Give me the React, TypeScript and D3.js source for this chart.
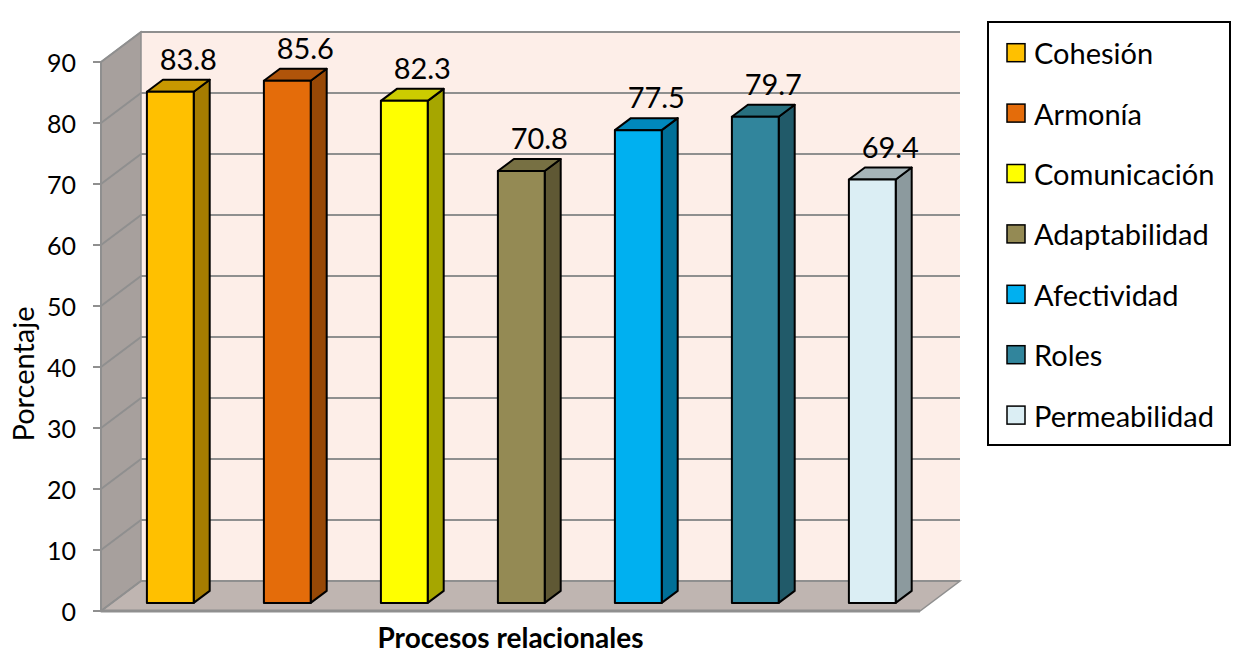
import React from "react";
import * as d3 from "d3";

// Procesos relacionales — porcentaje por proceso
const categories = [
  "Cohesión",
  "Armonía",
  "Comunicación",
  "Adaptabilidad",
  "Afectividad",
  "Roles",
  "Permeabilidad",
];
const values = [83.8, 85.6, 82.3, 70.8, 77.5, 79.7, 69.4];
const yTicks = [0, 10, 20, 30, 40, 50, 60, 70, 80, 90];

// front / side / top shades for each bar
const frontColors = ["#FFC000", "#E46C0A", "#FFFF00", "#948A54", "#00B0F0", "#31859C", "#DBEEF4"];
const sideColors = ["#A67C00", "#974806", "#A6A600", "#5F5834", "#006F97", "#215A69", "#8C9A9E"];
const topColors = ["#C89800", "#B0540A", "#CCCC00", "#777043", "#0088BC", "#28707F", "#A6B4B8"];

const W = 1240;
const H = 657;
const FONT = "Lato, 'Open Sans', sans-serif";

// oblique depth of the plot box
const DEPTH_X = 40;
const DEPTH_Y = -30;
const BAR_Z0 = 0.27;
const BAR_Z1 = 0.67;

export default function App() {
  const x = d3.scaleBand<string>().domain(categories).range([101, 920]).padding(0);
  const y = d3.scaleLinear().domain([0, 90]).range([611, 62]);
  const xL = x.range()[0];
  const xR = x.range()[1];

  const proj = (px: number, v: number, z: number): [number, number] => [
    px + z * DEPTH_X,
    y(v) + z * DEPTH_Y,
  ];
  const poly = (pts: [number, number][]) => pts.map((p) => p.join(",")).join(" ");

  const vMax = y.domain()[1];
  const backWall = poly([proj(xL, 0, 1), proj(xR, 0, 1), proj(xR, vMax, 1), proj(xL, vMax, 1)]);
  const sideWall = poly([proj(xL, 0, 0), proj(xL, vMax, 0), proj(xL, vMax, 1), proj(xL, 0, 1)]);
  const floor = poly([proj(xL, 0, 0), proj(xR, 0, 0), proj(xR, 0, 1), proj(xL, 0, 1)]);

  const barW = x.bandwidth() * 0.4;

  return (
    <svg width={W} height={H} style={{ display: "block", position: "absolute", left: 0, top: 0 }} fontFamily={FONT}>
      <rect x={0} y={0} width={W} height={H} fill="#FFFFFF" />

      {/* walls and floor */}
      <polygon points={backWall} fill="#FDEEE8" />
      <polygon points={sideWall} fill="#A7A09D" stroke="#8F8F8F" strokeWidth={1.5} />
      <polygon points={floor} fill="#BFB5B1" stroke="#8F8F8F" strokeWidth={1.5} />

      {/* gridlines on side wall and back wall */}
      {yTicks.map((t) => {
        const a = proj(xL, t, 0);
        const b = proj(xL, t, 1);
        const c = proj(xR, t, 1);
        return (
          <polyline
            key={"g" + t}
            points={poly([a, b, c])}
            fill="none"
            stroke="#8F8F8F"
            strokeWidth={2}
          />
        );
      })}

      {/* value axis */}
      <line x1={xL} x2={xL} y1={y(0)} y2={y(vMax)} stroke="#8F8F8F" strokeWidth={2} />
      <line x1={xL} x2={xR} y1={y(0)} y2={y(0)} stroke="#8F8F8F" strokeWidth={3} />
      {yTicks.map((t) => (
        <g key={"t" + t}>
          <line x1={xL - 8} x2={xL} y1={y(t)} y2={y(t)} stroke="#8F8F8F" strokeWidth={2} />
          <text x={xL - 25} y={y(t)} textAnchor="end" dominantBaseline="central" fontSize={25} fill="#000">
            {t}
          </text>
        </g>
      ))}

      {/* bars */}
      {categories.map((c, i) => {
        const v = values[i];
        const x0 = (x(c) as number) + x.bandwidth() / 2 - barW / 2;
        const x1 = x0 + barW;
        const front = poly([proj(x0, 0, BAR_Z0), proj(x1, 0, BAR_Z0), proj(x1, v, BAR_Z0), proj(x0, v, BAR_Z0)]);
        const side = poly([proj(x1, 0, BAR_Z0), proj(x1, v, BAR_Z0), proj(x1, v, BAR_Z1), proj(x1, 0, BAR_Z1)]);
        const top = poly([proj(x0, v, BAR_Z0), proj(x1, v, BAR_Z0), proj(x1, v, BAR_Z1), proj(x0, v, BAR_Z1)]);
        const labelPos = proj((x0 + x1) / 2, v, BAR_Z1);
        return (
          <g key={c}>
            <polygon points={side} fill={sideColors[i]} stroke="#000" strokeWidth={2} strokeLinejoin="round" />
            <polygon points={top} fill={topColors[i]} stroke="#000" strokeWidth={2} strokeLinejoin="round" />
            <polygon points={front} fill={frontColors[i]} stroke="#000" strokeWidth={2} strokeLinejoin="round" />
            <text
              x={labelPos[0] + 2}
              y={labelPos[1] - 10}
              textAnchor="middle"
              fontSize={29}
              fill="#000"
            >
              {v.toFixed(1)}
            </text>
          </g>
        );
      })}

      {/* axis titles */}
      <text
        x={(xL + xR) / 2}
        y={648}
        textAnchor="middle"
        fontSize={28}
        fontWeight="bold"
        fill="#000"
      >
        Procesos relacionales
      </text>
      <text
        transform={`translate(34, 374) rotate(-90)`}
        textAnchor="middle"
        fontSize={29}
        fill="#000"
      >
        Porcentaje
      </text>

      {/* legend */}
      <rect x={988} y={22} width={242} height={423} fill="#FFFFFF" stroke="#000" strokeWidth={2} />
      {categories.map((c, i) => {
        const cy = 52.7 + i * 60.4;
        return (
          <g key={"l" + c}>
            <rect x={1007} y={cy - 9} width={18} height={18} fill={frontColors[i]} stroke="#000" strokeWidth={1.5} />
            <text x={1034} y={cy} dominantBaseline="central" fontSize={29} fill="#000">
              {c}
            </text>
          </g>
        );
      })}
    </svg>
  );
}
